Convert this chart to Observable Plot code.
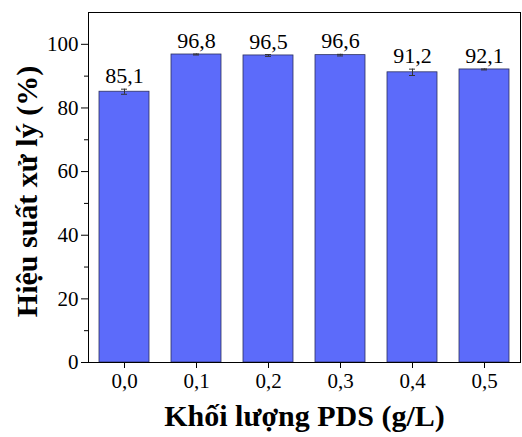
<!DOCTYPE html>
<html>
<head>
<meta charset="utf-8">
<script src="https://cdn.jsdelivr.net/npm/d3@7"></script>
<script src="https://cdn.jsdelivr.net/npm/@observablehq/plot@0.6"></script>
<style>
  html, body { margin: 0; padding: 0; background: #fff; }
</style>
</head>
<body>
<div id="chart"></div>
<script>
const doses = ["0,0", "0,1", "0,2", "0,3", "0,4", "0,5"];
const efficiency = [85.1, 96.8, 96.5, 96.6, 91.2, 92.1];
const errors = [0.8, 0.15, 0.3, 0.25, 1.0, 0.15];
const valueLabels = ["85,1", "96,8", "96,5", "96,6", "91,2", "92,1"];
const yTicks = [0, 20, 40, 60, 80, 100];
const yMinorTicks = [10, 30, 50, 70, 90];
const xTitle = "Khối lượng PDS (g/L)";
const yTitle = "Hiệu suất xử lý (%)";

const data = doses.map((d, i) => ({
  dose: d,
  value: efficiency[i],
  err: errors[i],
  label: valueLabels[i]
}));

const chart = Plot.plot({
  width: 522,
  height: 437,
  marginLeft: 88,
  marginRight: 2,
  marginTop: 12,
  marginBottom: 75,
  style: { fontFamily: "'Liberation Serif', 'Times New Roman', serif", fontSize: "21px", color: "#000", background: "#fff" },
  x: { domain: doses, paddingInner: 0.3, paddingOuter: 0.125 },
  y: { domain: [0, 110] },
  marks: [
    Plot.barY(data, { x: "dose", y: "value", fill: "#5c6bfa", stroke: "#2b2f5e", strokeWidth: 0.8 }),
    Plot.ruleX(data, { x: "dose", y1: d => d.value - d.err, y2: d => d.value + d.err, stroke: "#333", strokeWidth: 1 }),
    Plot.tickY(data, { x: "dose", y: d => d.value - d.err, stroke: "#333", strokeWidth: 1, insetLeft: 22, insetRight: 22 }),
    Plot.tickY(data, { x: "dose", y: d => d.value + d.err, stroke: "#333", strokeWidth: 1, insetLeft: 22, insetRight: 22 }),
    Plot.text(data, { x: "dose", y: d => d.value + d.err, text: "label", lineAnchor: "bottom", dy: -6, fontSize: 22 }),
    Plot.frame({ stroke: "#000", strokeWidth: 1 }),
    Plot.axisY({ ticks: yTicks, tickSize: 7, tickPadding: 3, label: null, fontSize: 21 }),
    Plot.axisY({ ticks: yMinorTicks, tickSize: 4, text: null, label: null }),
    Plot.axisX({ tickSize: 6, tickPadding: 5, label: null, fontSize: 21 }),
    Plot.text([xTitle], { frameAnchor: "bottom", textAnchor: "middle", dy: 63, fontSize: 30, fontWeight: "bold" }),
    Plot.text([yTitle], { frameAnchor: "left", textAnchor: "middle", dx: -61, dy: 4, rotate: -90, fontSize: 30, fontWeight: "bold" })
  ]
});

document.getElementById("chart").appendChild(chart);
</script>
</body>
</html>
